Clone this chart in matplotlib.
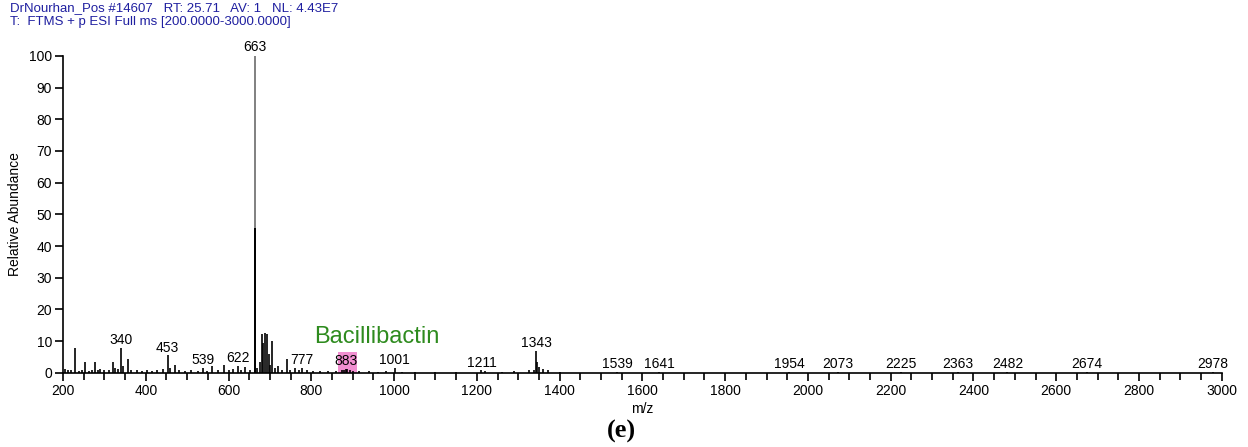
import numpy as np
import matplotlib
matplotlib.use("Agg")
import matplotlib.pyplot as plt
from matplotlib.patches import Rectangle

plt.rcParams['font.family'] = ['Liberation Sans', 'DejaVu Sans']

# ---- spectrum data (m/z, relative abundance) ----
mz = [205, 212, 220, 229, 238, 247, 253, 262, 270, 277, 284, 289, 300, 310,
      321, 326, 333, 340, 345, 357, 365, 378, 390, 402, 415, 428, 441, 453,
      458, 470, 480, 495, 510, 525, 539, 548, 560, 575, 590, 600, 610, 622,
      630, 640, 652, 664, 669, 675, 680, 684, 687, 692, 697, 701, 706, 712,
      720, 728, 740, 748, 760, 770, 777, 790, 805, 820, 840, 860, 875, 880,
      883, 887, 893, 900, 915, 940, 960, 980, 1001, 1020, 1050, 1100, 1150,
      1211, 1220, 1260, 1290, 1325, 1337, 1343, 1346, 1350, 1360, 1372, 1400,
      1539, 1641, 1954, 2073, 2225, 2363, 2482, 2674, 2978]
intensity = [1.2, 0.8, 0.9, 7.7, 0.6, 0.8, 3.5, 0.6, 1.0, 3.4, 1.0, 1.2, 0.8, 1.0,
             3.3, 1.5, 1.2, 7.8, 2.0, 4.5, 1.0, 0.8, 0.7, 0.8, 0.6, 1.0, 1.2, 5.5,
             1.5, 2.5, 0.8, 0.7, 0.9, 0.7, 1.5, 0.6, 2.0, 0.8, 2.5, 1.0, 1.2, 2.2,
             0.8, 1.8, 1.0, 45.8, 1.5, 3.5, 12.2, 9.5, 12.5, 12.2, 6.0, 2.5, 10.0, 1.5,
             2.2, 1.0, 4.5, 1.0, 1.6, 0.8, 1.5, 0.8, 0.6, 0.7, 0.5, 0.5, 0.8, 1.0,
             1.2, 1.1, 0.9, 0.6, 0.5, 0.5, 0.4, 0.5, 1.5, 0.4, 0.3, 0.3, 0.3,
             0.8, 0.5, 0.3, 0.5, 0.9, 1.0, 7.0, 3.5, 1.8, 1.2, 0.8, 0.2,
             0.3, 0.3, 0.2, 0.2, 0.2, 0.2, 0.2, 0.2, 0.2]

# base peak (drawn grey, overlapping the black 664 line)
base_mz = 663
base_int = 100

# labelled peaks
label_mz = [340, 453, 539, 622, 777, 883, 1001, 1211, 1343,
            1539, 1641, 1954, 2073, 2225, 2363, 2482, 2674, 2978]

header1 = "DrNourhan_Pos #14607   RT: 25.71   AV: 1   NL: 4.43E7"
header2 = "T:  FTMS + p ESI Full ms [200.0000-3000.0000]"

fig = plt.figure(figsize=(12.48, 4.47), dpi=100)
ax = fig.add_axes([0.0505, 0.166, 0.9285, 0.709])

ax.vlines(mz, 0, intensity, color="black", lw=1.2)
ax.vlines([base_mz], 0, [base_int], color="#808080", lw=1.4)
ax.vlines([base_mz + 0.6], 0, [45.8], color="black", lw=1.4)

# highlighted region for Bacillibactin
ax.add_patch(Rectangle((864, -0.3), 46, 6.9, color="#f08fd0", zorder=0, lw=0))
ax.text(958, 11.3, "Bacillibactin", color="#2e8b1e", fontsize=17,
        ha="center", va="center")

lookup = dict(zip(mz, intensity))
for m in label_mz:
    ax.annotate(str(m), (m, lookup[m]), xytext=(0, 0.5), textcoords="offset points",
                ha="center", va="bottom", fontsize=10, annotation_clip=False)
ax.annotate(str(base_mz), (base_mz, base_int), xytext=(0, 1.5),
            textcoords="offset points", ha="center", va="bottom",
            fontsize=10, annotation_clip=False)

ax.set_xlim(200, 3000)
ax.set_ylim(0, 100)
ax.set_xticks(np.arange(200, 3001, 200))
ax.set_xticks(np.arange(200, 3001, 50), minor=True)
ax.set_yticks(np.arange(0, 101, 10))
ax.tick_params(axis="both", labelsize=10, width=1.2, length=6, direction="out", pad=2)
ax.tick_params(axis="x", which="minor", width=1.2, length=5)
for s in ["top", "right"]:
    ax.spines[s].set_visible(False)
ax.spines["left"].set_linewidth(1.2)
ax.spines["bottom"].set_linewidth(1.2)
ax.set_xlabel("m/z", fontsize=10, labelpad=3)
ax.set_ylabel("Relative Abundance", fontsize=10, labelpad=5)

fig.text(0.008, 0.982, header1, color="#1f1fa0", fontsize=9.5, va="center")
fig.text(0.008, 0.950, header2, color="#1f1fa0", fontsize=9.5, va="center")
fig.text(0.498, 0.034, "(e)", family="Liberation Serif", fontweight="bold",
         fontsize=19, ha="center", va="center")

fig.savefig("out.png", dpi=100)
